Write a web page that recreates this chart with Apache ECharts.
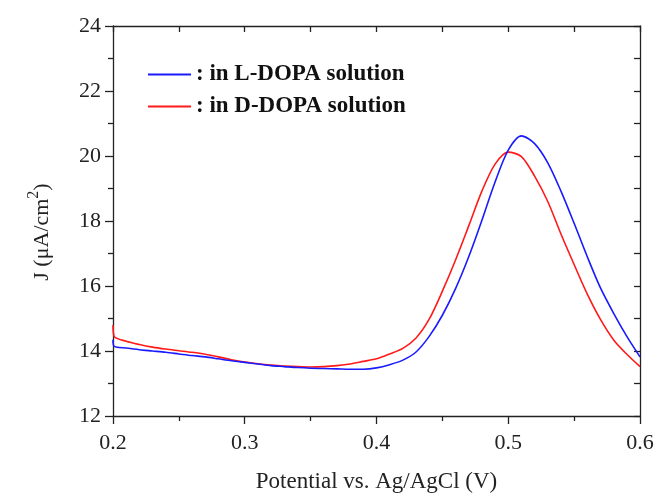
<!DOCTYPE html>
<html>
<head>
<meta charset="utf-8">
<script src="https://cdn.jsdelivr.net/npm/echarts@6/dist/echarts.min.js"></script>
<style>html,body{margin:0;padding:0;background:#fff;}#c{width:655px;height:496px;}</style>
</head>
<body>
<div id="c"></div>
<script>
var potentials = [0.2, 0.201, 0.21, 0.22, 0.23, 0.24, 0.25, 0.26, 0.27, 0.28, 0.29, 0.30, 0.31, 0.32, 0.33, 0.34, 0.35, 0.36, 0.37, 0.38, 0.39, 0.40, 0.41, 0.42, 0.43, 0.44, 0.45, 0.46, 0.47, 0.48, 0.49, 0.50, 0.51, 0.52, 0.53, 0.54, 0.55, 0.56, 0.57, 0.58, 0.59, 0.60];
var lDopa = [14.35, 14.14, 14.09, 14.04, 14.00, 13.96, 13.91, 13.86, 13.82, 13.76, 13.70, 13.65, 13.60, 13.55, 13.52, 13.49, 13.47, 13.46, 13.45, 13.44, 13.44, 13.48, 13.58, 13.72, 13.97, 14.45, 15.10, 15.92, 16.90, 18.02, 19.20, 20.18, 20.62, 20.38, 19.79, 18.92, 17.93, 16.90, 15.94, 15.16, 14.45, 13.82];
var dDopa = [14.80, 14.44, 14.30, 14.20, 14.12, 14.06, 14.01, 13.96, 13.90, 13.82, 13.73, 13.66, 13.61, 13.57, 13.54, 13.52, 13.51, 13.52, 13.55, 13.60, 13.68, 13.76, 13.91, 14.08, 14.40, 14.98, 15.84, 16.80, 17.85, 18.92, 19.75, 20.12, 19.98, 19.38, 18.60, 17.60, 16.66, 15.75, 14.97, 14.34, 13.90, 13.52];
var seriesNames = [': in L-DOPA solution', ': in D-DOPA solution'];
var xTitle = 'Potential vs. Ag/AgCl (V)';

function pairs(ys) { return potentials.map(function (x, i) { return [x, ys[i]]; }); }

var font = 'Liberation Serif';
var ink = '#222';
var chart = echarts.init(document.getElementById('c'));
chart.setOption({
  animation: false,
  backgroundColor: '#fff',
  grid: { left: 113, right: 15, top: 26, bottom: 80, containLabel: false, outerBoundsMode: 'none' },
  legend: {
    left: 143, top: 58, orient: 'vertical', icon: 'rect', itemWidth: 43, itemHeight: 2, itemGap: 9,
    textStyle: { fontFamily: font, fontWeight: 'bold', fontSize: 23, color: '#111' },
    data: seriesNames
  },
  xAxis: [{
    type: 'value', min: 0.2, max: 0.6, interval: 0.1, position: 'bottom',
    name: xTitle, nameLocation: 'middle', nameGap: 54,
    nameTextStyle: { fontFamily: font, fontSize: 23, color: ink },
    axisLine: { lineStyle: { color: ink, width: 1.3 } },
    axisTick: { length: 8, lineStyle: { color: ink, width: 1.3 } },
    minorTick: { show: true, splitNumber: 2, length: 5, lineStyle: { color: ink, width: 1.3 } },
    axisLabel: { fontFamily: font, fontSize: 22, color: ink, margin: 16, formatter: function (v) { return v.toFixed(1); } },
    splitLine: { show: false }
  }, {
    type: 'value', min: 0.2, max: 0.6, interval: 0.05, position: 'top',
    axisLine: { lineStyle: { color: ink, width: 1.3 } },
    axisTick: { inside: true, length: 6, lineStyle: { color: ink, width: 1.3 } },
    axisLabel: { show: false }, splitLine: { show: false }
  }],
  yAxis: [{
    type: 'value', min: 12, max: 24, interval: 2, position: 'left',
    name: 'J (μA/cm{sup|2})', nameLocation: 'middle', nameGap: 55,
    nameTextStyle: { fontFamily: font, fontSize: 22, color: ink, lineHeight: 32, padding: [0, 22, 0, 0],
      rich: { sup: { fontFamily: font, fontSize: 16, color: ink, verticalAlign: 'top', lineHeight: 32, padding: [0, 0, 10, 0] } } },
    axisLine: { show: true, lineStyle: { color: ink, width: 1.3 } },
    axisTick: { show: true, length: 8, lineStyle: { color: ink, width: 1.3 } },
    minorTick: { show: true, splitNumber: 2, length: 5, lineStyle: { color: ink, width: 1.3 } },
    axisLabel: { fontFamily: font, fontSize: 22, color: ink, margin: 12 },
    splitLine: { show: false }
  }, {
    type: 'value', min: 12, max: 24, interval: 1, position: 'right',
    axisLine: { show: true, lineStyle: { color: ink, width: 1.3 } },
    axisTick: { show: true, inside: true, length: 6, lineStyle: { color: ink, width: 1.3 } },
    axisLabel: { show: false }, splitLine: { show: false }
  }],
  series: [{
    name: seriesNames[0], type: 'line', data: pairs(lDopa), symbol: 'none', smooth: 0.3,
    lineStyle: { color: '#1a1aff', width: 1.6 }, itemStyle: { color: '#1a1aff' }, z: 3
  }, {
    name: seriesNames[1], type: 'line', data: pairs(dDopa), symbol: 'none', smooth: 0.3,
    lineStyle: { color: '#ff1a1a', width: 1.6 }, itemStyle: { color: '#ff1a1a' }, z: 2
  }]
});
</script>
</body>
</html>
